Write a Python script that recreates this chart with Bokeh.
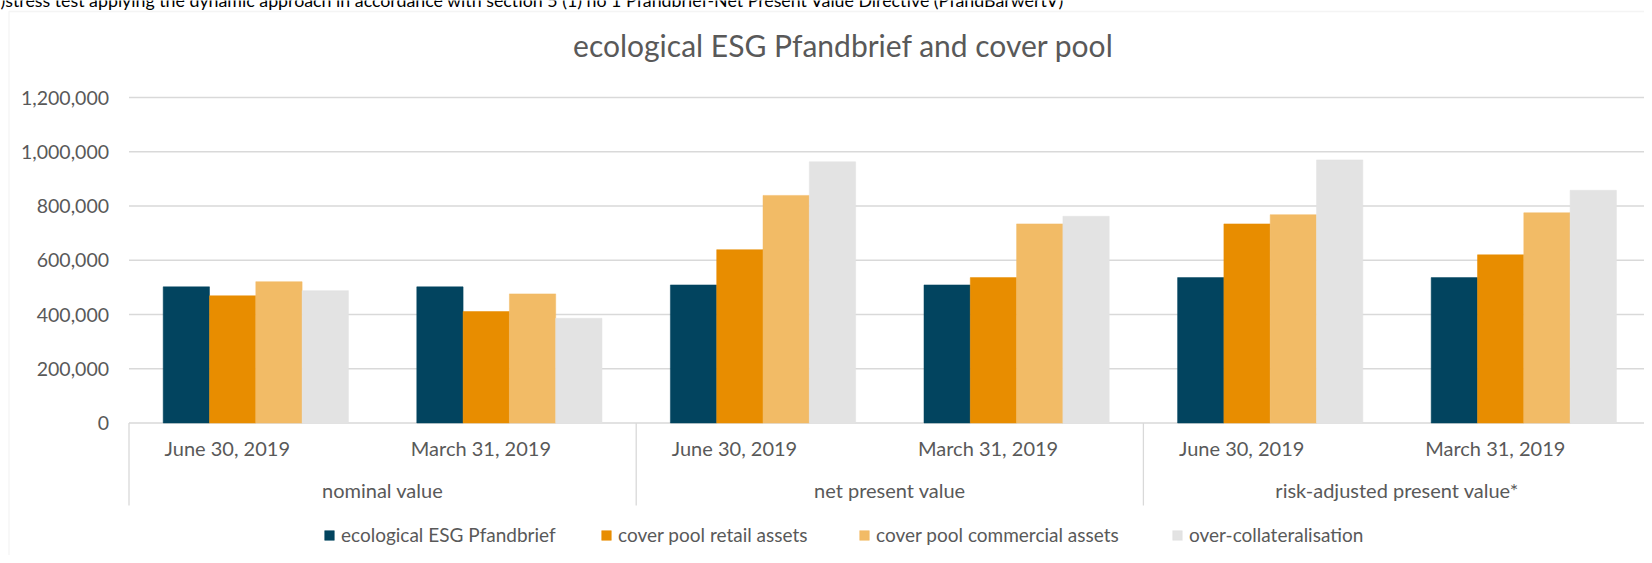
from bokeh.plotting import figure
from bokeh.models import Range1d, Label, Legend, LegendItem, BoxAnnotation, ColumnDataSource
from bokeh.transform import dodge
from bokeh.core.properties import value
from bokeh.embed import file_html
from bokeh.resources import INLINE

# ---------------- data ----------------
groups = ["nominal value", "net present value", "risk-adjusted present value*"]
dates = ["June 30, 2019", "March 31, 2019"]
series_names = ["ecological ESG Pfandbrief", "cover pool retail assets",
                "cover pool commercial assets", "over-collateralisation"]
esg_pfandbrief = [502000, 502000, 509000, 509000, 536000, 536000]
retail_assets = [469000, 411000, 639000, 536000, 734000, 620000]
commercial_assets = [521000, 476000, 839000, 734000, 768000, 775000]
over_collateralisation = [488000, 386000, 963000, 762000, 970000, 858000]
y_ticks = [0, 200000, 400000, 600000, 800000, 1000000, 1200000]
y_tick_labels = ["0", "200,000", "400,000", "600,000", "800,000", "1,000,000", "1,200,000"]
title_text = "ecological ESG Pfandbrief and cover pool"
note_text = (")stress test applying the dynamic approach in accordance with section 5 (1) "
             "no 1 Pfandbrief-Net Present Value Directive (PfandBarwertV)")

# ---------------- style / layout ----------------
colors = ["#02445F", "#E88D00", "#F2BB66", "#E3E3E3"]
grey_text = "#595959"
grid_col = "#D9D9D9"
FONT = "Lato"

W, H = 1644, 555
PX_CAT = 253.6          # pixels per category
LEFT_PAD = 128.5        # pixels left of the category axis
ZERO_Y = 422.5          # pixel row (from top) of the value 0
PX_PER_VAL = 325.5 / 1.2e6

n_cat = len(groups) * len(dates)
x_start = -LEFT_PAD / PX_CAT
x_end = x_start + W / PX_CAT
y_end = ZERO_Y / PX_PER_VAL
y_start = -(H - ZERO_Y) / PX_PER_VAL

cat_x = [i + 0.5 for i in range(n_cat)]
series = [esg_pfandbrief, retail_assets, commercial_assets, over_collateralisation]
keys = ["s0", "s1", "s2", "s3"]
src = ColumnDataSource(dict(x=cat_x, **{k: v for k, v in zip(keys, series)}))

p = figure(width=W, height=H, x_range=Range1d(x_start, x_end), y_range=Range1d(y_start, y_end),
           output_backend="svg", toolbar_location=None,
           min_border_left=0, min_border_right=0, min_border_top=0, min_border_bottom=0,
           x_axis_location=None, y_axis_location=None, background_fill_color="white",
           border_fill_color="white", outline_line_color=None)
p.grid.visible = False

# gridlines across the plot area
p.segment(x0=[0] * len(y_ticks), x1=[n_cat] * len(y_ticks), y0=y_ticks, y1=y_ticks,
          line_color=grid_col, line_width=1.3)

# y tick labels
p.text(x=[0] * len(y_ticks), y=y_ticks, text=y_tick_labels, x_offset=-20,
       text_align="right", text_baseline="middle", text_font=value(FONT),
       text_font_size="19.5px", text_color=grey_text)

bw = 0.1826
renderers = []
for i, (k, col) in enumerate(zip(keys, colors)):
    r = p.vbar(x=dodge("x", (i - 1.5) * bw), top=k, width=bw, bottom=0, source=src,
               fill_color=col, line_color=col, line_width=0.5)
    renderers.append(r)

# category axis: box lines and labels
boundaries = [i * len(dates) for i in range(len(groups) + 1)]
sep_bottom = -82.5 / PX_PER_VAL
p.segment(x0=boundaries, x1=boundaries, y0=[0] * len(boundaries),
          y1=[sep_bottom] * len(boundaries), line_color=grid_col, line_width=1.3)

p.text(x=cat_x, y=[0] * n_cat, text=[d for g in groups for d in dates],
       x_offset=-28.5, y_offset=25, text_align="center", text_baseline="middle",
       text_font=value(FONT), text_font_size="20px", text_color=grey_text)
group_x = [(i + 0.5) * len(dates) for i in range(len(groups))]
p.text(x=group_x, y=[0] * len(groups), text=groups,
       y_offset=67, text_align="center", text_baseline="middle",
       text_font=value(FONT), text_font_size="20px", text_color=grey_text)

# chart area border (cut at right & bottom like the reference)
p.add_layout(BoxAnnotation(left=8.5, right=W + 200, top=H - 11, bottom=-200,
                           left_units="screen", right_units="screen",
                           top_units="screen", bottom_units="screen",
                           fill_color=None, line_color=grid_col, line_width=1.3))

# title
p.add_layout(Label(x=843, y=H - 44, x_units="screen", y_units="screen", text=title_text,
                   text_align="center", text_baseline="middle", text_font=FONT,
                   text_font_size="30px", text_color=grey_text))
# cut-off note line at the very top
p.add_layout(Label(x=0, y=H + 0.5, x_units="screen", y_units="screen", text=note_text,
                   text_align="left", text_baseline="alphabetic", text_font=FONT,
                   text_font_size="17.8px", text_color="#000000"))

legend_x = [323, 600, 858, 1171]
legend_y = H - 546
for r, name, lx in zip(renderers, series_names, legend_x):
    lg = Legend(items=[LegendItem(label=name, renderers=[r])], location=(lx, legend_y),
                orientation="horizontal", border_line_color=None, background_fill_alpha=0,
                padding=0, margin=0, glyph_width=12, glyph_height=12, label_standoff=6,
                label_text_font=FONT, label_text_font_size="19px",
                label_text_color=grey_text, label_height=20)
    p.add_layout(lg, "center")

open("out.html", "w").write(file_html(p, INLINE))
